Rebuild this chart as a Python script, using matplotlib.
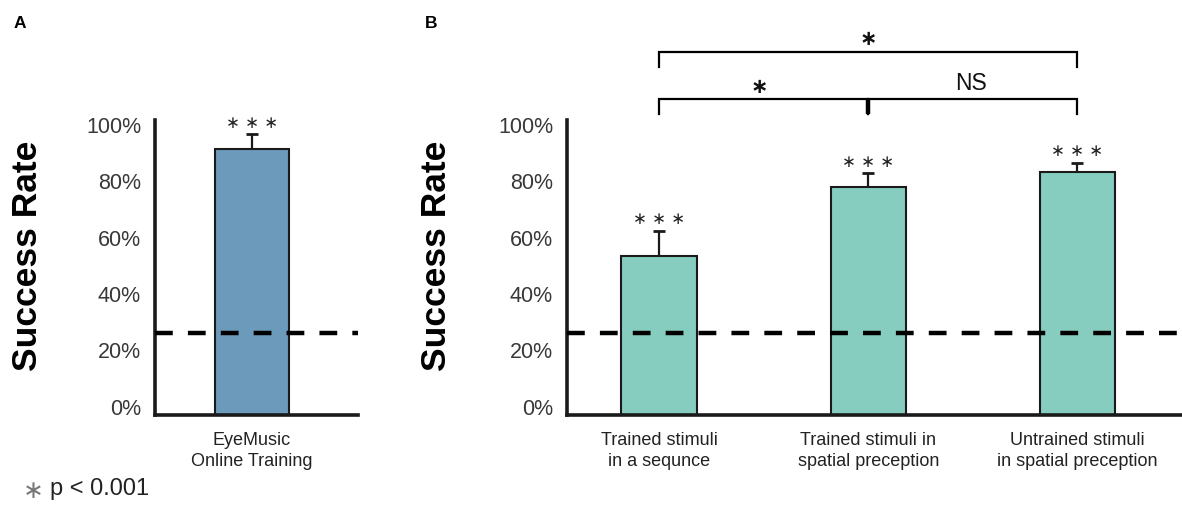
import matplotlib
matplotlib.use("Agg")
import matplotlib.pyplot as plt
import numpy as np

plt.rcParams["font.family"] = ["Liberation Sans", "DejaVu Sans"]

# panel A data
a_labels = ["EyeMusic\nOnline Training"]
a_values = [91.4]
a_errors = [5.3]

# panel B data
b_labels = [
    "Trained stimuli\nin a sequnce",
    "Trained stimuli in\nspatial preception",
    "Untrained stimuli\nin spatial preception",
]
b_values = [53.4, 78.1, 83.4]
b_errors = [8.9, 4.7, 3.3]

chance_level = 26
yticks = [0, 20, 40, 60, 80, 100]
ytick_labels = ["0%", "20%", "40%", "60%", "80%", "100%"]

# significance brackets in panel B: (left bar, right bar, label)
comparisons = [(0, 2, "∗"), (0, 1, "∗"), (1, 2, "NS")]

W, H = 1182, 514
fig = plt.figure(figsize=(W / 100, H / 100), dpi=100)

YLIM = (-3.0, 101.8)
AX_BOTTOM = 1 - 415 / H
AX_HEIGHT = (415 - 120) / H
BAR_W = 0.359
EDGE = "#1a1a1a"
STAR_FONT = "DejaVu Sans"


def style_axes(ax, xlim):
    ax.set_xlim(*xlim)
    ax.set_ylim(*YLIM)
    for side in ("top", "right"):
        ax.spines[side].set_visible(False)
    for side in ("left", "bottom"):
        ax.spines[side].set_linewidth(2.6)
        ax.spines[side].set_color("#1a1a1a")
    ax.set_yticks(yticks)
    ax.set_yticklabels(ytick_labels)
    ax.tick_params(axis="y", length=0, pad=10, labelsize=15.5, labelcolor="#383838")
    ax.tick_params(axis="x", length=0, pad=12, labelsize=13, labelcolor="#222222")
    ax.axhline(chance_level, color="black", lw=3.2, dashes=(4.0, 3.4), zorder=5,
               clip_on=False)


def draw_bars(ax, values, errors, labels, color):
    x = np.arange(len(values))
    # bars sit on the axis line, which lies a little below 0%
    base = YLIM[0]
    heights = np.asarray(values) - base
    ax.bar(x, heights, bottom=base, width=BAR_W, color=color, edgecolor=EDGE,
           lw=1.5, zorder=2)
    _, caps, _ = ax.errorbar(x, values, yerr=[np.zeros(len(errors)), errors],
                             fmt="none", ecolor=EDGE, elinewidth=1.6, capsize=4,
                             capthick=2.0, zorder=3)
    caps[0].set_visible(False)
    for xi, v, e in zip(x, values, errors):
        ax.text(xi, v + e + 4.2, "∗ ∗ ∗", ha="center", va="center", fontsize=12,
                family=STAR_FONT, color="#222222")
    ax.set_xticks(x)
    ax.set_xticklabels(labels, linespacing=1.3)


# panel A
ax_a = fig.add_axes([155 / W, AX_BOTTOM, (358 - 155) / W, AX_HEIGHT])
style_axes(ax_a, (-0.465, 0.508))
draw_bars(ax_a, a_values, a_errors, a_labels, "#6b9aba")

# panel B
ax_b = fig.add_axes([567 / W, AX_BOTTOM, 1 - 567 / W, AX_HEIGHT])
style_axes(ax_b, (-0.44, 2.50))
draw_bars(ax_b, b_values, b_errors, b_labels, "#86cdc0")

# brackets above panel B
bracket_levels = {(0, 2): (126.0, 120.7), (0, 1): (109.2, 103.8), (1, 2): (109.2, 103.8)}
for left, right, text in comparisons:
    top, foot = bracket_levels[(left, right)]
    ax_b.plot([left, left, right, right], [foot, top, top, foot], color="black",
              lw=1.6, clip_on=False, solid_joinstyle="miter")
    mid = (left + right) / 2
    if text == "NS":
        ax_b.text(mid - 0.01, top + 5.7, text, ha="center", va="center",
                  fontsize=16.5, color="#111111", clip_on=False)
    else:
        ax_b.text(mid - 0.02 * (right - left == 1), top + 4.5, text, ha="center",
                  va="center", fontsize=15, family=STAR_FONT, color="#111111",
                  fontweight="bold", clip_on=False)
# thicker middle tick where the two lower brackets meet
ax_b.plot([1, 1], [103.8, 109.2], color="black", lw=3.2, clip_on=False,
          solid_capstyle="butt")

# y labels, panel letters and footnote
for x_px in (27.5, 436):
    fig.text(x_px / W, 1 - 256 / H, "Success Rate", rotation=90, ha="center",
             va="center", fontsize=25.5, fontweight="bold", color="black")
fig.text(20 / W, 1 - 23 / H, "A", ha="center", va="center", fontsize=12.5,
         fontweight="bold")
fig.text(431 / W, 1 - 23 / H, "B", ha="center", va="center", fontsize=12.5,
         fontweight="bold")
fig.text(33 / W, 1 - 491 / H, "∗", ha="center", va="center", fontsize=18,
         family=STAR_FONT, color="#777777")
fig.text(50 / W, 1 - 489 / H, "p < 0.001", ha="left", va="center", fontsize=17,
         color="#222222")

fig.savefig("out.png", dpi=100)
